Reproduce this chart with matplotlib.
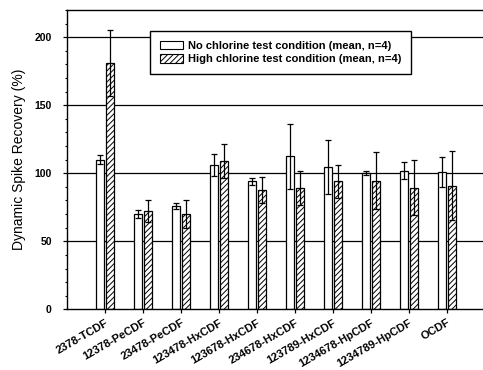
import matplotlib
matplotlib.use("Agg")
import matplotlib.pyplot as plt
import numpy as np
from matplotlib.patches import Patch
from matplotlib.ticker import MultipleLocator

# Congener names and recovery values
congeners = ['2378-TCDF', '12378-PeCDF', '23478-PeCDF', '123478-HxCDF',
             '123678-HxCDF', '234678-HxCDF', '123789-HxCDF', '1234678-HpCDF',
             '1234789-HpCDF', 'OCDF']
no_cl_mean = [110, 70, 76, 106, 94, 112.5, 104.5, 100.5, 102, 101]
no_cl_err = [3.5, 3, 2, 8, 2.5, 24, 20, 1.5, 6, 11]
high_cl_mean = [181, 72, 70, 109, 88, 89, 94, 94.5, 89.5, 91]
high_cl_err = [24, 8, 10.5, 12.5, 9.5, 12.5, 12, 21, 20, 25]

plt.rcParams['font.family'] = ['Liberation Sans', 'DejaVu Sans']
plt.rcParams['hatch.linewidth'] = 0.7

fig = plt.figure(figsize=(4.83, 3.70), dpi=100)
ax = fig.add_axes([0.139, 0.164, 0.861, 0.809])

x = np.arange(len(congeners))
w = 0.22

# horizontal reference lines
for yv in [50, 100, 150, 200]:
    ax.axhline(yv, color='black', lw=0.9, zorder=0)

ax.bar(x - w / 2 - 0.02, no_cl_mean, w, color='white', edgecolor='black',
       lw=0.9, zorder=2)
ax.bar(x + w / 2 + 0.02, high_cl_mean, w, color='white', edgecolor='black',
       hatch='//////', lw=0.9, zorder=2)
ax.errorbar(x - w / 2 - 0.02, no_cl_mean, yerr=no_cl_err, fmt='none',
            ecolor='black', elinewidth=0.9, capsize=2.5, capthick=0.9, zorder=3)
ax.errorbar(x + w / 2 + 0.02, high_cl_mean, yerr=high_cl_err, fmt='none',
            ecolor='black', elinewidth=0.9, capsize=2.5, capthick=0.9, zorder=3)

ax.set_xlim(-1.0, 9.95)
ax.set_ylim(0, 220)
ax.set_yticks([0, 50, 100, 150, 200])
ax.yaxis.set_minor_locator(MultipleLocator(10))
ax.set_xticks(x)
ax.set_xticklabels(congeners, rotation=30, ha='right', rotation_mode='anchor',
                   fontsize=8, fontweight='bold')
for lab in ax.get_yticklabels():
    lab.set_fontsize(7.5)
    lab.set_fontweight('bold')
ax.tick_params(axis='y', which='major', direction='out', length=3, width=0.9, pad=8)
ax.tick_params(axis='y', which='minor', direction='out', length=1.5, width=0.8)
ax.tick_params(axis='x', direction='out', length=3, width=0.9, pad=3)

ax.spines['right'].set_visible(False)
for s in ['left', 'top', 'bottom']:
    ax.spines[s].set_linewidth(1.0)

ax.set_ylabel('Dynamic Spike Recovery (%)', fontsize=10, labelpad=6)

handles = [Patch(facecolor='white', edgecolor='black', lw=0.8),
           Patch(facecolor='white', edgecolor='black', hatch='//////', lw=0.8)]
labels = ['No chlorine test condition (mean, n=4)',
          'High chlorine test condition (mean, n=4)']
leg = ax.legend(handles, labels, loc='upper left', bbox_to_anchor=(0.2, 0.93),
                borderaxespad=0, fontsize=8, frameon=True, fancybox=False,
                edgecolor='black', framealpha=1, borderpad=0.9,
                handlelength=2.0, handleheight=0.8, handletextpad=0.5,
                labelspacing=0.3)
leg.get_frame().set_linewidth(1.0)
leg.set_zorder(5)
for t in leg.get_texts():
    t.set_fontweight('bold')

fig.savefig('out.png', dpi=100)
